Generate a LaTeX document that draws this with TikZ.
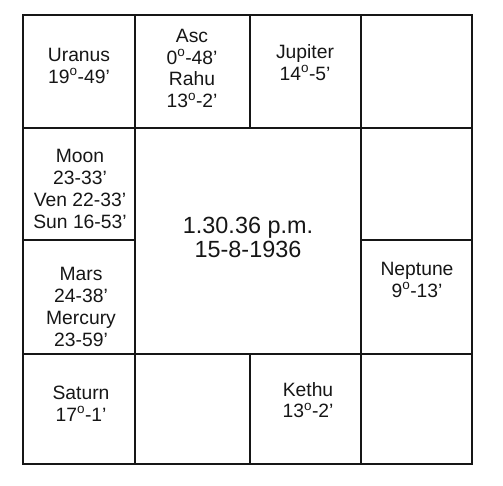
\documentclass[tikz,border=0pt]{standalone}
\usepackage{fontspec}
\setmainfont{Liberation Sans}
\usepackage{tikz}
\definecolor{chartink}{HTML}{161616}
\newcommand{\dg}{\textsuperscript{o}}

\begin{document}
\begin{tikzpicture}[
  x=1pt, y=-1pt,
  rasi/.style={align=center, inner sep=0pt, text=chartink, font=\fontsize{19.3}{21.8}\selectfont},
  birth/.style={align=center, inner sep=0pt, text=chartink, font=\fontsize{23.4}{24.2}\selectfont},
  wall/.style={draw=chartink, line width=2.4pt, line cap=rect}
]
\useasboundingbox (0,0) rectangle (503,486);

% Outer frame and grid
\draw[wall] (23,15) rectangle (472,464);
\draw[wall] (23,128) -- (472,128);
\draw[wall] (23,354) -- (472,354);
\draw[wall] (135,15) -- (135,464);
\draw[wall] (361,15) -- (361,464);
\draw[wall] (250,15) -- (250,128);
\draw[wall] (250,354) -- (250,464);
\draw[wall] (23,240) -- (135,240);
\draw[wall] (361,240) -- (472,240);

% Top row
\node[rasi] (uranus) at (79,66) {Uranus\\19\dg-49'};
\node[rasi] (asc) at (192,68.5) {Asc\\0\dg-48'\\Rahu\\13\dg-2'};
\node[rasi] (jupiter) at (305,62.5) {Jupiter\\14\dg-5'};

% Left column
\node[rasi] (moon) at (80,189) {Moon\\23-33'\\Ven 22-33'\\Sun 16-53'};
\node[rasi] (mars) at (81,307) {Mars\\24-38'\\Mercury\\23-59'};

% Right column
\node[rasi] (neptune) at (417,280) {Neptune\\9\dg-13'};

% Bottom row
\node[rasi] (saturn) at (81,403.5) {Saturn\\17\dg-1'};
\node[rasi] (kethu) at (308,400) {Kethu\\13\dg-2'};

% Centre
\node[birth] (time) at (248,237.5) {1.30.36 p.m.\\15-8-1936};
\end{tikzpicture}
\end{document}
